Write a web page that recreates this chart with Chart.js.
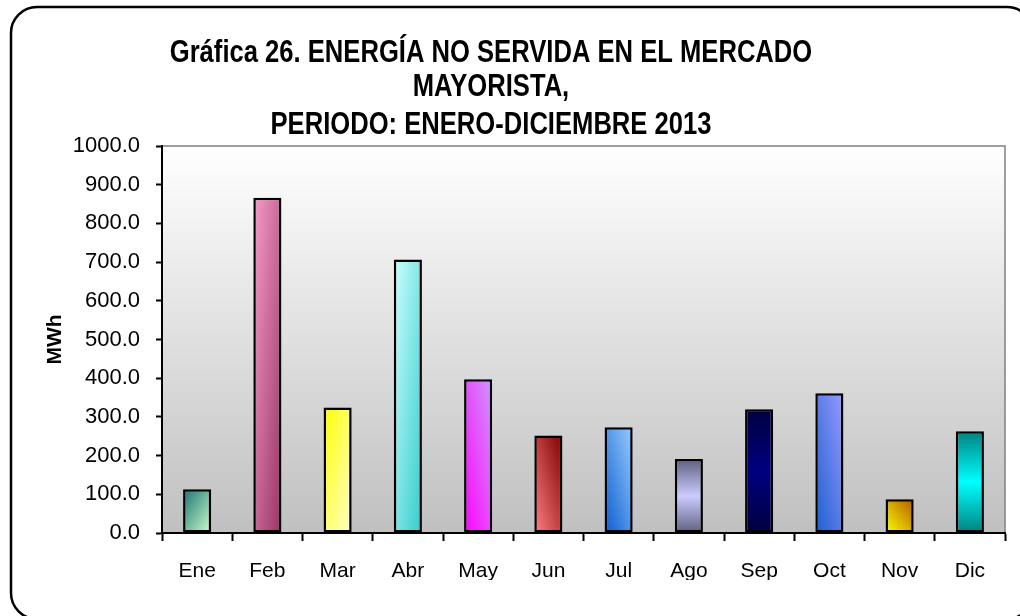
<!DOCTYPE html>
<html>
<head>
<meta charset="utf-8">
<title>Energía no servida 2013</title>
<script src="https://cdn.jsdelivr.net/npm/chart.js@4.4.0/dist/chart.umd.min.js"></script>
<style>
  html, body { margin: 0; padding: 0; background: #fff; }
  canvas { display: block; }
</style>
</head>
<body>
<canvas id="grafica" width="1020" height="616"></canvas>
<script>
// datos mensuales (MWh)
const meses = ['Ene', 'Feb', 'Mar', 'Abr', 'May', 'Jun', 'Jul', 'Ago', 'Sep', 'Oct', 'Nov', 'Dic'];
const energiaNoServida = [113, 866, 324, 707, 397, 252, 273, 191, 320, 361, 87, 263];
const lineasTitulo = ['Gráfica 26. ENERGÍA NO SERVIDA EN EL MERCADO', 'MAYORISTA,', 'PERIODO: ENERO-DICIEMBRE 2013'];
const tituloEjeY = 'MWh';
const ejeYMin = 0;
const ejeYMax = 1000;
const ejeYPaso = 100;

const ANCHO_BARRA = 0.4;
const FUENTE = '"Liberation Sans", Arial, sans-serif';

// relleno de cada barra: tipo de degradado + colores
const rellenos = [
    { tipo: 'diag', colores: ['#1b7373', '#ccffcc'] },
    { tipo: 'diag', colores: ['#f79ccb', '#993366'] },
    { tipo: 'diag', colores: ['#ffff00', '#ffffcc'] },
    { tipo: 'diag', colores: ['#ccffff', '#33cccc'] },
    { tipo: 'diagArriba', colores: ['#ff00ff', '#cc99ff'] },
    { tipo: 'diagArriba', colores: ['#ff8080', '#800000'] },
    { tipo: 'diagArriba', colores: ['#0a5ccf', '#99ccff'] },
    { tipo: 'vertical3', colores: ['#5f5f80', '#ccccff', '#5f5f80'] },
    { tipo: 'vertical3', colores: ['#000040', '#000080', '#000040'] },
    { tipo: 'diagArriba', colores: ['#1a5fd0', '#9999ff'] },
    { tipo: 'diagArriba', colores: ['#ffff00', '#b35900'] },
    { tipo: 'vertical3', colores: ['#008080', '#00ffff', '#008080'] }
];

// degradado escalado a la caja de la barra (como en Office)
function rellenoBarra(context)
{
    let chart = context.chart;
    let i = context.dataIndex;
    let r = rellenos[i];
    let xs = chart.scales.x;
    let ys = chart.scales.y;
    if (!xs || !ys || !chart.chartArea) return r.colores[0];

    let ancho = xs.width / meses.length * ANCHO_BARRA;
    let x0 = xs.getPixelForValue(i) - ancho / 2;
    let y0 = ys.getPixelForValue(energiaNoServida[i]);
    let y1 = ys.getPixelForValue(0);
    let alto = Math.max(y1 - y0, 1);
    let ctx = chart.ctx;
    let g;

    if (r.tipo === 'vertical3') {
        g = ctx.createLinearGradient(0, y0, 0, y1);
        g.addColorStop(0, r.colores[0]);
        g.addColorStop(0.5, r.colores[1]);
        g.addColorStop(1, r.colores[2]);
        return g;
    }

    let vx = 1 / (2 * ancho);
    let vy = (r.tipo === 'diag' ? 1 : -1) / (2 * alto);
    let n = vx * vx + vy * vy;
    let px = x0;
    let py = r.tipo === 'diag' ? y0 : y1;
    g = ctx.createLinearGradient(px, py, px + vx / n, py + vy / n);
    g.addColorStop(0, r.colores[0]);
    g.addColorStop(1, r.colores[1]);
    return g;
}

// fondo del área de trazado, marco redondeado y título
const decoracion = {
    id: 'decoracion',
    beforeDraw(chart) {
        let ctx = chart.ctx;
        let a = chart.chartArea;
        ctx.save();
        ctx.fillStyle = '#ffffff';
        ctx.fillRect(0, 0, chart.width, chart.height);

        let g = ctx.createLinearGradient(0, a.top, 0, a.bottom);
        g.addColorStop(0, '#ffffff');
        g.addColorStop(1, '#c0c0c0');
        ctx.fillStyle = g;
        ctx.fillRect(a.left, a.top, a.right - a.left, a.bottom - a.top);

        ctx.strokeStyle = '#808080';
        ctx.lineWidth = 1.5;
        ctx.beginPath();
        ctx.moveTo(a.left, a.top);
        ctx.lineTo(a.right, a.top);
        ctx.lineTo(a.right, a.bottom);
        ctx.stroke();

        ctx.strokeStyle = '#000000';
        ctx.lineWidth = 2.5;
        ctx.beginPath();
        ctx.roundRect(11, 7, 1022, 612, 26);
        ctx.stroke();
        ctx.restore();
    },
    afterDraw(chart) {
        let ctx = chart.ctx;
        let bases = [62, 96, 134];
        ctx.save();
        ctx.fillStyle = '#000000';
        ctx.font = 'bold 32px ' + FUENTE;
        ctx.textAlign = 'center';
        ctx.textBaseline = 'alphabetic';
        lineasTitulo.forEach((linea, k) => {
            ctx.save();
            ctx.translate(491, bases[k]);
            ctx.scale(0.8, 1);
            ctx.fillText(linea, 0, 0);
            ctx.restore();
        });
        ctx.restore();
    }
};

let datos = {
    labels: meses,
    datasets: [
        {
            label: 'Energía no servida',
            data: energiaNoServida,
            backgroundColor: rellenoBarra,
            borderColor: '#000000',
            borderWidth: 2.5,
            borderSkipped: false,
            barPercentage: ANCHO_BARRA,
            categoryPercentage: 1
        }
    ]
};

let config = {
    type: 'bar',
    data: datos,
    plugins: [decoracion],
    options: {
        responsive: false,
        animation: false,
        layout: { padding: { left: 43, right: 15, top: 146, bottom: 36 } },
        plugins: {
            legend: { display: false },
            title: { display: false },
            tooltip: { enabled: false }
        },
        scales: {
            x: {
                offset: true,
                afterFit: (s) => { s.height = 47; },
                grid: {
                    offset: true,
                    drawOnChartArea: false,
                    tickLength: 8,
                    tickColor: '#000000',
                    tickWidth: 2
                },
                border: { color: '#000000', width: 2 },
                ticks: {
                    color: '#000000',
                    font: { family: FUENTE, size: 21 },
                    padding: 18
                }
            },
            y: {
                min: ejeYMin,
                max: ejeYMax,
                afterFit: (s) => { s.width = 119; },
                grid: {
                    drawOnChartArea: false,
                    tickLength: 6,
                    tickColor: '#000000',
                    tickWidth: 2
                },
                border: { color: '#000000', width: 2 },
                ticks: {
                    stepSize: ejeYPaso,
                    color: '#000000',
                    font: { family: FUENTE, size: 22 },
                    padding: 16,
                    callback: (v) => Number(v).toFixed(1)
                },
                title: {
                    display: true,
                    text: tituloEjeY,
                    color: '#000000',
                    font: { family: FUENTE, size: 21, weight: 'bold' },
                    padding: { top: 0, bottom: 9 }
                }
            }
        }
    }
};

let canvas = document.getElementById('grafica');
let chart = new Chart(canvas, config);
</script>
</body>
</html>
